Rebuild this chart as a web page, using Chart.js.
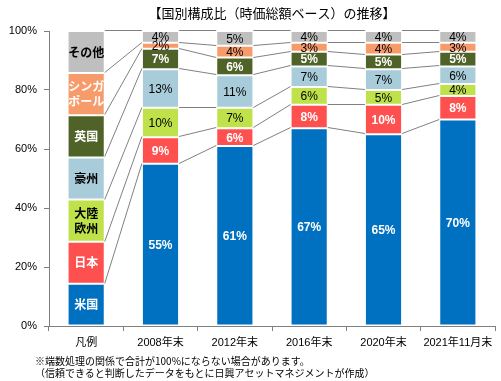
<!DOCTYPE html>
<html>
<head>
<meta charset="utf-8">
<script src="https://cdn.jsdelivr.net/npm/chart.js@4"></script>
<style>
  body { margin: 0; background: #fff; }
  #wrap { position: relative; width: 501px; height: 381px; }
  .note {
    position: absolute; left: 35px;
    font: 10px "Noto Sans CJK JP", sans-serif; color: #000;
    white-space: nowrap; line-height: 12px;
  }
</style>
</head>
<body>
<div id="wrap">
  <canvas id="chart" width="501" height="381"></canvas>
  <div class="note" style="top:355px">※端数処理の関係で合計が100%にならない場合があります。</div>
  <div class="note" style="top:367px">（信頼できると判断したデータをもとに日興アセットマネジメントが作成）</div>
</div>
<script>
const categories = ['凡例', '2008年末', '2012年末', '2016年末', '2020年末', '2021年11月末'];
const seriesNames = ['米国', '日本', '大陸欧州', '豪州', '英国', 'シンガポール', 'その他'];
// legend column names, split into lines
const legendNames = [['米国'], ['日本'], ['大陸', '欧州'], ['豪州'], ['英国'], ['シンガ', 'ポール'], ['その他']];

// first entry of each series is the legend column (equal slices)
const usa       = [14.29, 55, 61, 67, 65, 70];
const japan     = [14.29,  9,  6,  8, 10,  8];
const europe    = [14.29, 10,  7,  6,  5,  4];
const australia = [14.29, 13, 11,  7,  7,  6];
const uk        = [14.29,  7,  6,  5,  5,  5];
const singapore = [14.29,  2,  4,  3,  4,  3];
const others    = [14.29,  4,  5,  4,  4,  4];
const yTicks = [0, 20, 40, 60, 80, 100];

const seriesValues = [usa, japan, europe, australia, uk, singapore, others];
const colors = ['#0070C0', '#FF5050', '#BFE24A', '#A9CCDA', '#4F6228', '#F79B6B', '#BFBFBF'];
const valueTextColors = ['#fff', '#fff', '#000', '#000', '#fff', '#000', '#000'];
const legendTextColors = ['#fff', '#fff', '#000', '#000', '#fff', '#fff', '#000'];

const TITLE = '【国別構成比（時価総額ベース）の推移】';

// connecting lines, segment labels and title
const overlay = {
    id: 'overlay',
    afterDatasetsDraw(chart) {
        const ctx = chart.ctx;
        const metas = chart.data.datasets.map((d, i) => chart.getDatasetMeta(i));

        ctx.save();
        ctx.strokeStyle = '#808080';
        ctx.lineWidth = 1;
        metas.forEach(meta => {
            for (let j = 0; j < meta.data.length - 1; j++) {
                const a = meta.data[j];
                const b = meta.data[j + 1];
                ctx.beginPath();
                ctx.moveTo(a.x + a.width / 2, Math.round(a.y) - 0.5);
                ctx.lineTo(b.x - b.width / 2, Math.round(b.y) - 0.5);
                ctx.stroke();
            }
        });

        ctx.textAlign = 'center';
        ctx.textBaseline = 'middle';
        metas.forEach((meta, s) => {
            meta.data.forEach((bar, j) => {
                const cy = (bar.y + bar.base) / 2;
                if (j === 0) {
                    const lines = legendNames[s];
                    ctx.fillStyle = legendTextColors[s];
                    ctx.font = 'bold 12px "Noto Sans CJK JP"';
                    lines.forEach((t, k) => {
                        ctx.fillText(t, bar.x, cy + (k - (lines.length - 1) / 2) * 15);
                    });
                } else {
                    ctx.fillStyle = valueTextColors[s];
                    ctx.font = (valueTextColors[s] === '#fff' ? 'bold ' : '') + '12px "Liberation Sans", Arial';
                    ctx.fillText(seriesValues[s][j] + '%', bar.x, cy + 1);
                }
            });
        });

        const area = chart.chartArea;
        ctx.fillStyle = '#000';
        ctx.font = '13px "Noto Sans CJK JP"';
        ctx.fillText(TITLE, (area.left + area.right) / 2, 13);
        ctx.restore();
    },
};

const ctx = document.getElementById('chart').getContext('2d');

new Chart(ctx, {
    type: 'bar',
    data: {
        labels: categories,
        datasets: seriesNames.map((name, i) => ({
            label: name,
            data: seriesValues[i],
            backgroundColor: colors[i],
            borderColor: '#fff',
            borderWidth: 1,
            borderSkipped: false,
            barPercentage: 0.5,
            categoryPercentage: 1,
        })),
    },
    options: {
        responsive: false,
        animation: false,
        events: [],
        layout: {
            padding: { top: 31, right: 6, left: 0, bottom: 0 },
        },
        plugins: {
            legend: { display: false },
            tooltip: { enabled: false },
            title: { display: false },
        },
        scales: {
            x: {
                stacked: true,
                afterFit: scale => { scale.height = 55; },
                grid: {
                    drawOnChartArea: false,
                    color: '#808080',
                    tickLength: 5,
                },
                border: { color: '#808080' },
                ticks: {
                    color: '#000',
                    padding: 5,
                    autoSkip: false,
                    maxRotation: 0,
                    minRotation: 0,
                    font: { family: '"Liberation Sans", "Noto Sans CJK JP"', size: 11 },
                },
            },
            y: {
                stacked: true,
                min: 0,
                max: 100,
                afterFit: scale => { scale.width = 49; },
                afterBuildTicks: scale => { scale.ticks = yTicks.map(v => ({ value: v })); },
                grid: {
                    drawOnChartArea: false,
                    color: '#808080',
                    tickLength: 5,
                },
                border: { color: '#808080' },
                ticks: {
                    color: '#000',
                    padding: 7,
                    font: { family: '"Liberation Sans", Arial', size: 11 },
                    callback: v => v + '%',
                },
            },
        },
    },
    plugins: [overlay],
});
</script>
</body>
</html>
